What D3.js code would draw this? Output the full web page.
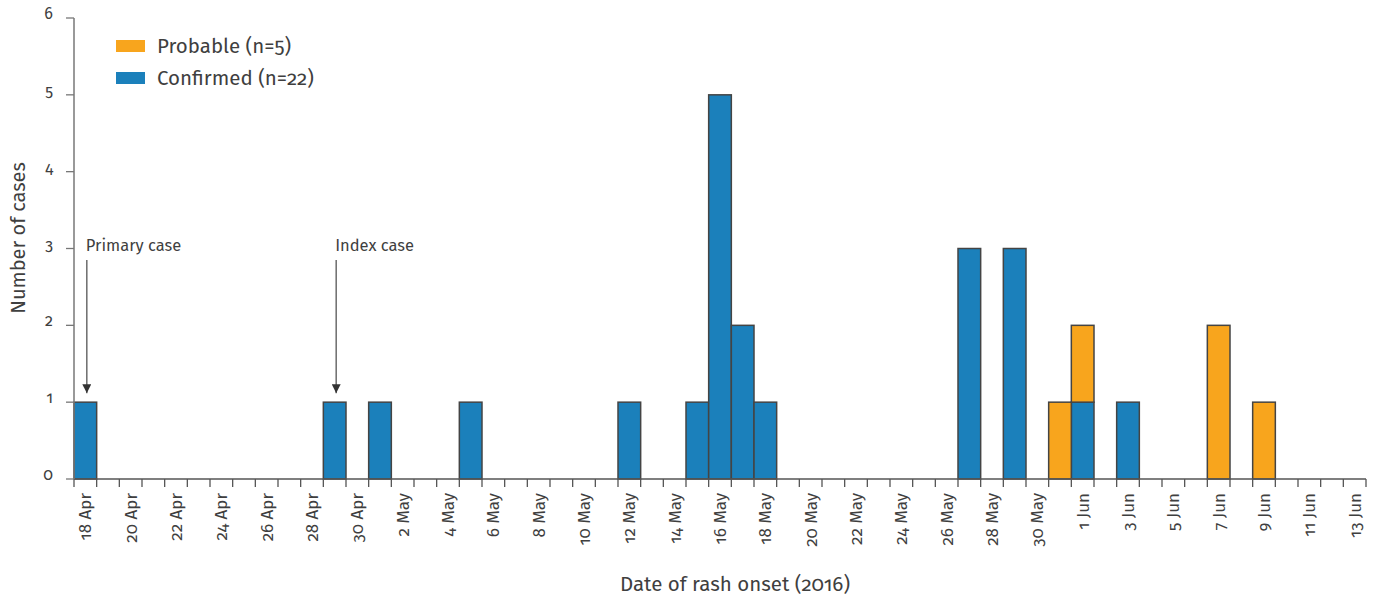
<!DOCTYPE html>
<html>
<head>
<meta charset="utf-8">
<script src="https://cdn.jsdelivr.net/npm/d3@7"></script>
<style>
  body { margin: 0; background: #fff; }
  svg text { font-family: "Fira Sans", "Noto Sans", sans-serif; fill: #3f3f3f; font-variant-numeric: oldstyle-nums; }
</style>
</head>
<body>
<svg id="chart"></svg>
<script>
// cases by date of rash onset
const confirmedDates = ['2016-04-18', '2016-04-29', '2016-05-01', '2016-05-05', '2016-05-12', '2016-05-15',
  '2016-05-16', '2016-05-17', '2016-05-18', '2016-05-27', '2016-05-29', '2016-06-01', '2016-06-03'];
const confirmedCounts = [1, 1, 1, 1, 1, 1, 5, 2, 1, 3, 3, 1, 1];
const probableDates = ['2016-05-31', '2016-06-01', '2016-06-07', '2016-06-09'];
const probableCounts = [1, 1, 2, 1];

const firstDay = '2016-04-18';
const lastDay = '2016-06-13';
const yTicks = [0, 1, 2, 3, 4, 5, 6];

const annotations = [
  { date: '2016-04-18', label: 'Primary case' },
  { date: '2016-04-29', label: 'Index case' }
];

const width = 1375, height = 599;
const margin = { top: 18, right: 9, bottom: 120, left: 74 };

const parse = d3.timeParse('%Y-%m-%d');
const fmt = d3.timeFormat('%Y-%m-%d');
const days = d3.timeDay.range(parse(firstDay), d3.timeDay.offset(parse(lastDay), 1)).map(fmt);

const svg = d3.select('#chart').attr('width', width).attr('height', height);

const x = d3.scaleBand().domain(days).range([margin.left, width - margin.right]).padding(0);
const y = d3.scaleLinear().domain([0, 6]).range([479, margin.top]);

// stacked rows: confirmed at bottom, probable on top
const rows = days.map(d => {
  const ci = confirmedDates.indexOf(d), pi = probableDates.indexOf(d);
  return { date: d, confirmed: ci >= 0 ? confirmedCounts[ci] : 0, probable: pi >= 0 ? probableCounts[pi] : 0 };
});
const stack = d3.stack().keys(['confirmed', 'probable'])(rows);
const colors = { confirmed: '#1b80bb', probable: '#f8a51d' };

svg.append('g').selectAll('g')
  .data(stack)
  .join('g')
  .attr('fill', s => colors[s.key])
  .selectAll('rect')
  .data(s => s.filter(d => d[1] > d[0]))
  .join('rect')
  .attr('x', d => x(d.data.date))
  .attr('width', x.bandwidth())
  .attr('y', d => y(d[1]))
  .attr('height', d => y(d[0]) - y(d[1]))
  .attr('stroke', '#444')
  .attr('stroke-width', 1.5);

// x axis: ticks at day edges, labels every other day centered
const xAxis = svg.append('g').attr('transform', `translate(0,${y(0)})`);
xAxis.append('line')
  .attr('x1', margin.left).attr('x2', width - margin.right)
  .attr('stroke', '#555').attr('stroke-width', 1.5);
xAxis.selectAll('line.tick')
  .data(days.concat(['end']))
  .join('line')
  .attr('class', 'tick')
  .attr('x1', (d, i) => margin.left + i * x.bandwidth())
  .attr('x2', (d, i) => margin.left + i * x.bandwidth())
  .attr('y1', 0).attr('y2', 8)
  .attr('stroke', '#555').attr('stroke-width', 1.3);
xAxis.selectAll('text')
  .data(days.filter((d, i) => i % 2 === 0))
  .join('text')
  .attr('transform', d => `translate(${x(d) + x.bandwidth() / 2 + 6},${14}) rotate(-90)`)
  .attr('text-anchor', 'end')
  .style('font-size', '17px')
  .text(d => d3.timeFormat('%-d %b')(parse(d)));

// y axis
const yAxis = svg.append('g').attr('transform', `translate(${margin.left},0)`);
yAxis.append('line')
  .attr('y1', y(6)).attr('y2', y(0))
  .attr('stroke', '#777').attr('stroke-width', 1.5);
yAxis.selectAll('line.tick')
  .data(yTicks)
  .join('line')
  .attr('class', 'tick')
  .attr('x1', -8).attr('x2', 0)
  .attr('y1', d => y(d)).attr('y2', d => y(d))
  .attr('stroke', '#777').attr('stroke-width', 1.3);
yAxis.selectAll('text')
  .data(yTicks)
  .join('text')
  .attr('x', -21).attr('y', d => y(d) + 1)
  .attr('text-anchor', 'end')
  .style('font-size', '16px')
  .text(d => d);

// axis titles
svg.append('text')
  .attr('transform', `translate(25,${238}) rotate(-90)`)
  .attr('text-anchor', 'middle')
  .style('font-size', '20px')
  .text('Number of cases');
svg.append('text')
  .attr('x', 735).attr('y', 591)
  .attr('text-anchor', 'middle')
  .style('font-size', '20.5px')
  .text('Date of rash onset (2016)');

// legend
const legend = svg.append('g');
[['probable', 'Probable (n=5)'], ['confirmed', 'Confirmed (n=22)']].forEach(([k, label], i) => {
  legend.append('rect')
    .attr('x', 116).attr('y', 40 + i * 32).attr('width', 29).attr('height', 12)
    .attr('fill', colors[k]);
  legend.append('text')
    .attr('x', 157).attr('y', 53 + i * 32)
    .style('font-size', '20.5px')
    .text(label);
});

// annotation arrows
svg.append('defs').append('marker')
  .attr('id', 'arrow')
  .attr('viewBox', '0 0 10 10')
  .attr('refX', 10).attr('refY', 5)
  .attr('markerWidth', 9).attr('markerHeight', 9)
  .attr('markerUnits', 'userSpaceOnUse')
  .attr('orient', 'auto')
  .append('path')
  .attr('d', 'M0,0 L10,5 L0,10 Z')
  .attr('fill', '#333');

const ann = svg.append('g');
annotations.forEach(a => {
  const cx = x(a.date) + x.bandwidth() / 2 + 1.5;
  ann.append('text')
    .attr('x', cx - 1).attr('y', 251)
    .style('font-size', '16.5px')
    .text(a.label);
  ann.append('line')
    .attr('x1', cx).attr('x2', cx)
    .attr('y1', 260).attr('y2', y(1) - 9)
    .attr('stroke', '#555').attr('stroke-width', 1.3)
    .attr('marker-end', 'url(#arrow)');
});
</script>
</body>
</html>
